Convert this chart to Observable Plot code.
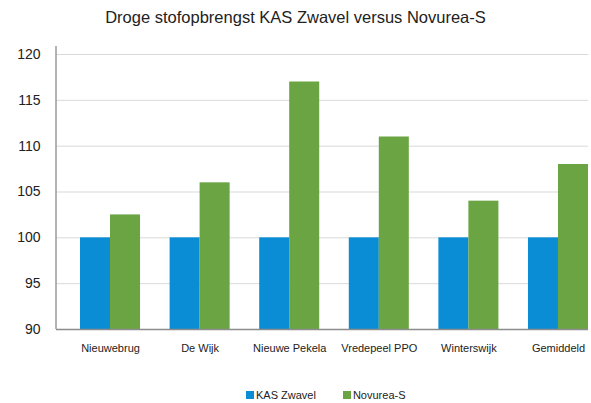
<!DOCTYPE html>
<html>
<head>
<meta charset="utf-8">
<script src="https://cdn.jsdelivr.net/npm/d3@7"></script>
<script src="https://cdn.jsdelivr.net/npm/@observablehq/plot@0.6"></script>
<style>
  body { margin: 0; background: #fff; font-family: "Liberation Sans", Arial, Helvetica, sans-serif; }
  #wrap { width: 591px; }
  #title { height: 36px; line-height: 34px; text-align: center; font-size: 16.5px; color: #222; }
  #chart svg { display: block; }
  #legend { display: flex; justify-content: flex-start; gap: 27px; font-size: 11px; color: #222; margin-top: 14px; padding-left: 246px; }
  #legend span.item { display: flex; align-items: center; }
  #legend span.sw { display: inline-block; width: 8px; height: 8px; margin-right: 2px; }
</style>
</head>
<body>
<div id="wrap">
  <div id="title">Droge stofopbrengst KAS Zwavel versus Novurea-S</div>
  <div id="chart"></div>
  <div id="legend"></div>
</div>
<script>
const categories = ["Nieuwebrug", "De Wijk", "Nieuwe Pekela", "Vredepeel PPO", "Winterswijk", "Gemiddeld"];
const seriesNames = ["KAS Zwavel", "Novurea-S"];
const kasZwavel = [100, 100, 100, 100, 100, 100];
const novureaS = [102.5, 106, 117, 111, 104, 108];
const yTicks = [90, 95, 100, 105, 110, 115, 120];
const colors = ["#0a8dd4", "#6ba443"];

const data = [];
categories.forEach((c, i) => {
  data.push({category: c, series: seriesNames[0], value: kasZwavel[i]});
  data.push({category: c, series: seriesNames[1], value: novureaS[i]});
});
const yMin = yTicks[0];
const yMax = yTicks[yTicks.length - 1];
const halfBar = 30;

const chart = Plot.plot({
  width: 591,
  height: 339,
  marginTop: 18,
  marginBottom: 46,
  marginLeft: 56,
  marginRight: 3,
  style: { fontFamily: '"Liberation Sans", Arial, Helvetica, sans-serif', color: "#222", background: "#fff" },
  x: { domain: categories, paddingInner: 0.33, paddingOuter: 0.134, align: 1, round: false, label: null },
  y: { domain: [yMin, yMax], label: null },
  marks: [
    Plot.ruleY(yTicks.slice(1), { stroke: "#d9d9d9", strokeWidth: 1 }),
    Plot.barY(data.filter(d => d.series === seriesNames[0]), {
      x: "category", y1: () => yMin, y2: "value", fill: colors[0], insetRight: halfBar
    }),
    Plot.barY(data.filter(d => d.series === seriesNames[1]), {
      x: "category", y1: () => yMin, y2: "value", fill: colors[1], insetLeft: halfBar
    }),
    Plot.axisY({ ticks: yTicks, tickSize: 0, tickPadding: 16, fontSize: 14, label: null }),
    Plot.axisX({ tickSize: 0, tickPadding: 15, fontSize: 11, label: null }),
    Plot.ruleY([yMin], { stroke: "#8c8c8c", strokeWidth: 1.5 })
  ]
});
document.getElementById("chart").appendChild(chart);

// vertical y-axis line
const ys = chart.scale("y");
d3.select(chart).append("line")
  .attr("x1", 56).attr("x2", 56)
  .attr("y1", ys.apply(yMax) - 8).attr("y2", ys.apply(yMin))
  .attr("stroke", "#9a9a9a").attr("stroke-width", 1.5);

const legend = d3.select("#legend");
seriesNames.forEach((s, i) => {
  const item = legend.append("span").attr("class", "item");
  item.append("span").attr("class", "sw").style("background", colors[i]);
  item.append("span").text(s);
});
</script>
</body>
</html>
